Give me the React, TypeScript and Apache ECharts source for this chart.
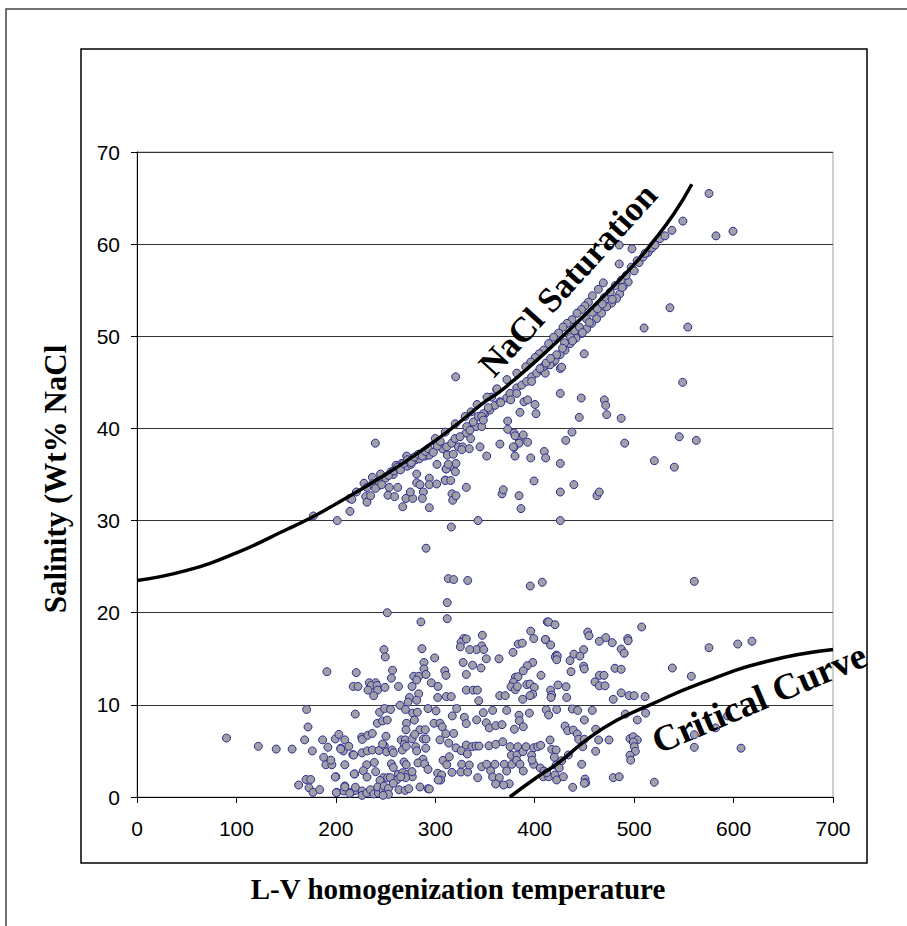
import React, { useEffect, useRef } from "react";
import * as echarts from "echarts";

const xTickMin = 0;
const xTickMax = 700;
const xTickStep = 100;
const yTickMin = 0;
const yTickMax = 70;
const yTickStep = 10;

const xTitle = "L-V homogenization temperature";
const yTitle = "Salinity (Wt% NaCl";
const saturationLabel = "NaCl Saturation";
const criticalLabel = "Critical Curve";

const saturationCurve = [
  [0, 23.5], [50, 24.6], [100, 26.5], [150, 29.0], [175, 30.3], [200, 31.8], [250, 35.0],
  [290, 37.9], [320, 40.3], [350, 42.9], [365, 44.0], [400, 47.2], [430, 50.2], [466, 54.0],
  [500, 57.8], [517, 60.0], [540, 63.3], [558, 66.5],
];

const criticalCurve = [
  [375, 0], [399, 1.9], [425, 3.8], [452, 6.2], [482, 8.3], [516, 10.0], [566, 12.3], [633, 14.7], [700, 16.0],
];

const lowerCluster = [
  [191,13.6],[220.5,13.5],[217.5,12.0],[222.3,12.0],[170.6,9.5],[219.5,9.0],[172,7.6],[90,6.4],[122,5.5],[140,5.2],[156,5.2],[168.6,6.2],[176.3,5.0],[186.7,6.2],[192,5.4],[199.4,6.3],[203,6.8],[209,6.2],[205,5.3],[207.5,5.0],[213,5.5],[217,4.6],[187.7,4.3],[190,3.5],[196,3.5],[195,4.0],[209,3.5],[219,2.5],[200,2.2],[170,1.9],[174.7,1.9],[162.6,1.3],[173,1.0],[177,0.5],[183.7,0.8],[201,0.5],[209,1.2],[208,0.65],[215,0.5],[219,0.7],
  [248.4,16.0],[249.7,15.2],[286.6,16.1],[257,13.75],[255.8,12.9],[288.6,14.6],[288.6,13.9],[233.6,12.4],[240,12.4],[235.6,12.1],[241.4,12.1],[232.3,11.6],[242,11.6],[238,11.0],[249.4,11.9],[263,12.0],[276.6,12.0],[278.3,13.1],[283.3,13.1],[290.7,13.3],[281.3,12.7],[283.3,11.2],[274,10.8],[272.6,10.3],[281.3,10.5],[264.5,9.95],[270,9.5],[292.7,9.6],[244,9.2],[249,9.6],[255,9.5],[277.3,9.1],[282,9.2],[241.7,8.0],[247,8.25],[251.7,8.35],[271,8.0],[279,8.35],[270.5,7.3],[284.6,7.3],[290,7.3],[250.4,6.6],[226,6.5],[226.6,6.25],[232,6.7],[236.7,6.9],[265.8,6.2],[269.8,6.2],[276.6,6.3],[268.8,5.7],[279.3,6.8],[288,6.3],[290.7,6.3],[204.9,5.2],[218,4.55],[226.3,4.8],[231.6,5.0],[236.7,5.1],[243.4,5.05],[248.7,5.57],[247,5.75],[251,4.9],[256.5,5.1],[257.8,4.8],[266.8,5.1],[270.8,5.5],[280.3,5.45],[281.3,5.0],[290.4,5.3],[287.6,4.1],[238.7,3.75],[231,3.5],[227.6,2.85],[255.8,3.6],[257.8,3.2],[268.5,3.8],[270.8,3.5],[282.6,3.7],[289.3,3.6],[292.7,3.0],[262.8,2.46],[267.2,2.64],[272.2,2.46],[276.9,2.2],[276.6,2.75],[270.2,2.1],[261.2,1.85],[265.2,2.2],[199.4,2.17],[218.5,2.5],[231.3,2.17],[240,2.75],[247.7,2.1],[252.1,2.1],[254.7,2.1],[244.4,1.8],[200.4,0.47],[209,1.09],[214,0.4],[219.7,1.05],[226.4,0.65],[226.4,0.18],[231,0.43],[234.8,0.79],[238.1,0.33],[242.8,0.43],[242.1,1.09],[247.5,0.72],[248.5,1.19],[252.9,0.94],[252.9,0.29],[247.5,0.18],[257.8,1.49],[263.5,0.79],[269.8,0.72],[273.3,0.9],[284.6,1.09],[292.7,0.9],
  [312,19.35],[251.7,20.0],[285.6,19.0],[412.6,19.0],[396,18.0],[399,17.2],[347.3,17.55],[328.6,17.2],[325.9,16.8],[325.2,16.3],[331.2,17.15],[383.5,16.6],[387.5,16.7],[411,17.07],[346.7,16.4],[341.6,16.0],[334.6,16.0],[348.7,16.0],[378.2,15.7],[299.4,15.1],[351.3,15.0],[364.1,15.0],[328,14.6],[337.5,14.3],[346,14.0],[398,14.6],[392.5,14.25],[388.5,13.7],[406.3,13.2],[309.5,13.7],[310.8,13.2],[331.2,13.3],[296,12.4],[302.7,12.0],[380.5,13.0],[383.2,13.05],[378.5,12.45],[376.2,11.97],[380.5,11.65],[382.5,12.0],[392,12.2],[395.2,12.26],[399.6,11.9],[398,11.15],[387.9,10.6],[395.2,11.0],[302.4,10.8],[311.1,10.9],[316.1,10.9],[331.2,11.6],[338,11.6],[342.3,11.6],[343.7,10.45],[364.8,11.0],[370.4,11.0],[300.7,9.35],[298.7,8.0],[304.7,8.0],[307,7.6],[321.5,9.6],[317.1,8.8],[329.2,8.65],[331.2,7.97],[341.6,8.37],[348.3,9.15],[357.7,9.4],[371.8,9.4],[351.3,8.06],[354.4,7.5],[360.8,7.75],[367.1,7.85],[379.5,7.35],[384.2,8.87],[384.5,8.28],[388.5,7.63],[394.6,9.1],[411.6,9.47],[414,8.9],[304.7,6.2],[310.5,6.87],[318.5,6.9],[313.5,5.85],[320.8,5.34],[326.1,5.03],[331.2,5.64],[336.9,5.46],[332.2,4.67],[340.9,5.53],[344,5.53],[354,5.56],[360.8,5.72],[367.8,6.0],[375.2,5.46],[376.5,4.53],[382.2,4.56],[382.9,5.46],[388.2,4.92],[391.2,5.46],[396.9,4.53],[399,5.35],[403,5.46],[406,5.61],[294,0.87],[302.4,2.57],[306.4,2.39],[307.8,3.98],[311.5,3.5],[314.1,4.37],[305.4,1.84],[303,1.84],[316.8,2.68],[325.8,2.71],[332.5,2.71],[326.5,3.55],[334.2,3.47],[342.6,2.1],[346.6,3.29],[351.7,3.55],[355.7,2.85],[357.7,2.17],[360,3.55],[364.4,2.1],[369.4,3.55],[371.8,2.82],[377.1,3.55],[374.4,1.44],[368.7,1.3],[360.7,1.41],[381.8,3.98],[385.2,3.55],[388.5,2.82],[398.9,3.55],[397.3,4.0],[408.6,2.2],[414,2.2],[405.6,3.15],[409.3,2.82],
  [414,19.0],[420.4,18.7],[507.6,18.45],[453.3,17.9],[454.6,17.5],[471.4,17.3],[465,16.9],[493.5,17.2],[575.3,16.2],[604.2,16.6],[618.5,16.9],[410.6,17.1],[416,16.5],[487,16.06],[490,15.6],[439.4,15.5],[449.2,16.0],[445.5,15.3],[421.7,15.4],
  [435.5,14.8],[449.2,14.2],[449.8,13.9],[436.5,13.6],[478,16.75],[494,16.96],[460.6,12.5],[465,13.2],[469.7,13.2],[465,12.07],[470.7,12.07],[480.7,13.97],[487,13.86],[487,11.3],[479,10.6],[495,11.0],[500,11.0],[511,10.9],[538.4,14.0],[557.5,13.1],[491.1,9.0],[503.2,8.36],[511.6,9.1],[457.9,9.4],[449.9,8.36],[461.3,7.35],[464.3,6.19],[474.7,6.19],[461.3,4.96],[495.8,6.33],[499.2,6.54],[503.2,6.19],[499.2,5.97],[500.2,5.46],[501.2,4.96],[495.8,4.53],[496.5,4.0],[560.5,6.76],[560.5,5.39],[447.2,3.55],[450.6,1.95],[451.3,1.55],[438.2,1.05],[479,2.1],[485,2.2],[520.3,1.6],[420.7,15.2],[422.7,15.3],[422.1,14.9],[416,11.6],[417,11.07],[416.4,10.8],[432.2,10.8],[431.5,11.97],[423.4,12.16],[422.1,9.5],[437.8,9.55],[443.2,9.4],[430.5,7.7],[433.2,7.2],[438.8,7.27],[442.8,6.84],[444.2,6.26],[449.9,6.26],[448.3,5.46],[415.4,6.19],[417.1,5.17],[421.5,5.1],[419.7,4.31],[427.1,3.94],[433.8,4.56],[421.4,3.44],[424.7,3.15],[412.1,2.64],[420.4,2.39],[422.1,1.85],[428.8,2.2],[449.9,1.49],[582,7.5],[594,8.8],[607.5,5.3],
];

const middleScatter = [
  [290.7,27.0],[313.1,23.7],[318.5,23.6],[332.6,23.5],[395.5,22.9],[407.6,23.3],[560.5,23.4],[343,30.0],[425.7,30.0],[316.1,29.3],[312,21.1],
];

const upperScatter = [
  [239.7,38.4],[177.3,30.5],[201.4,30.0],[214.2,31.0],[214,32.4],[216,32.3],[220.6,33.1],[228.3,34.05],[236.7,34.7],[231.3,33.6],[230,32.6],[231.3,32.0],[235,32.7],[245,35.05],[243,33.8],[249.7,34.7],[255.5,35.3],[257.8,35.0],[260.5,36.0],[266.2,36.2],[271.2,37.0],[271.8,35.9],[275.6,36.1],[280.3,36.6],[283.9,36.7],[289.7,37.0],[294,37.1],[253.7,33.6],[252.4,32.75],[259.1,32.6],[262.2,33.6],[270.5,32.4],[267.2,31.5],[277.3,32.4],[274.9,33.1],[281.3,35.05],[281.3,34.1],[284.6,33.9],[288,33.1],[287,32.4],[294,34.6],[294,33.9],[301.4,33.97],[294,31.4],[301.7,36.1],[310,34.4],[310.8,35.6],[314.8,35.85],
  [320.5,45.6],[548.8,45.0],[425.7,46.5],[425.7,43.8],[446.8,43.3],[470,43.1],[471.4,42.5],[472.4,41.5],[487,41.1],[444.8,41.2],[437.5,39.6],[431.2,38.7],[490.5,38.4],[545.4,39.1],[562.5,38.7],[520.3,36.5],[540.4,35.8],[425.7,36.2],[409.6,37.5],[411,36.8],[396,36.8],[399.3,34.3],[439.4,33.9],[425.7,33.1],[462.6,32.7],[464.9,33.1],[384.2,32.7],[386.2,31.3],[367.1,32.9],[368.4,33.35],[331.2,33.6],[316.8,32.9],[317.5,32.2],[320.8,32.7],
  [345,38.0],[351.7,37.0],[365,38.3],[372.8,40.8],[372.8,39.9],[379.2,39.5],[384.5,38.85],[384.2,38.4],[379.2,37.95],[380.2,37.0],[392.9,38.5],[385.2,41.75],[389.2,42.9],[392.9,43.1],[400.3,42.6],[401.3,41.6],[320.8,36.2],[320.2,35.3],[311.1,35.6],[310.1,34.35],[315.5,34.35],[313.1,36.1],[378.5,38.0],[380.2,39.2],[388.5,39.3],
  [536,53.1],[554,51.0],[510,50.9],[575.3,65.5],[582.3,60.9],[599.4,61.4],[485,59.9],[497.8,59.5],[485,57.85],
];

const saturationBand = [
  [307.4,37.8],[311.5,38.0],[316.5,38.4],[319.8,38.9],[323.2,38.0],[327.6,38.0],[334.2,37.8],[312.1,37.1],[318.1,37.2],[326.6,37.7],[330.9,39.5],[335.6,38.9],[331.6,40.2],[341,40.2],[346.7,40.2],[338.2,40.7],[343.3,41.3],[350,41.6],[355,42.0],[360,42.5],[365,42.9],[371.8,43.3],[375.1,43.8],[381.9,44.4],[386.9,44.7],[391.9,45.1],[396.9,45.6],[402,46.0],[407,46.3],[412,46.9],[418.7,47.2],[365.8,42.8],[375.8,43.1],[381.9,43.8],[396.9,45.1],[410.6,46.0],[408.6,46.7],[361.8,44.2],[356.7,43.4],[353.3,42.25],[348.3,41.6],[346.7,41.3],[324.9,39.1],[334.9,39.8],[348.3,40.9],
  [342,42.6],[352,43.4],[362,44.3],[372,45.3],[382,46.0],[300,38.9],[310,39.6],[320,40.5],[330,41.3],[336,41.8],
  [469,55.8],[464,55.1],[458,54.4],[454,53.7],[450.5,53.3],[447,52.9],[442.5,52.5],[437.5,51.8],[432.5,51.4],[428.5,51.0],[424,50.35],[419,49.9],[414,49.2],[409,48.5],[404.5,48.1],[400.5,47.7],[396,47.2],[391,46.7],
  [499,57.2],[494,55.9],[489,55.4],[485.5,54.6],[482.3,54.1],[477.3,53.6],[472.3,53.2],[467.2,52.5],[462.2,51.9],[457.2,51.4],[452.2,50.8],[447.2,50.3],[441.5,49.8],[435.5,49.2],[430.5,48.5],[425.4,48.0],[420.4,47.4],[415.4,46.9],[411.4,47.1],[405.3,46.5],[449.8,48.1],[427.1,46.65],
  [430,49.3],[436,49.9],[440,50.6],[445,51.0],[452,51.9],[458,52.6],[463,53.0],[470,54.2],[476,54.8],[481,55.5],[487,56.1],[492,56.6],[497,57.5],[503,58.2],[488,55.3],[478,54.0],[468,53.5],[455,51.5],[448,50.4],[438,49.5],[428,48.7],[422,48.0],[416,47.6],
  [505,58.0],[509,58.6],[514,59.1],[518,59.6],[521,59.9],[526,60.6],[531,60.9],[538,61.5],[549,62.5],[500,57.1],[511,59.0],
  [250,34.6],[253,34.9],[258,35.4],[262,35.8],[265,35.5],[268,36.2],[272,36.6],[276,36.3],[279,36.9],[283,37.2],[287,37.0],[290,37.5],[293,37.8],[298,37.4],[302,38.1],[305,38.6],[237,34.0],[240,33.5],[243,34.3],[246,33.9],
];

const serif = '"Liberation Serif", "Times New Roman", Times, serif';
const sans = '"Liberation Sans", Arial, Helvetica, sans-serif';

export default function App() {
  const ref = useRef<HTMLDivElement>(null);
  useEffect(() => {
    if (!ref.current) return;
    const chart = echarts.init(ref.current, null, { renderer: "svg" });
    const allPoints = [...lowerCluster, ...middleScatter, ...upperScatter, ...saturationBand];
    chart.setOption({
      animation: false,
      backgroundColor: "#ffffff",
      grid: { left: 137, top: 152, right: 74, bottom: 129, show: true, borderColor: "#a0a0a0", borderWidth: 1, backgroundColor: "transparent" },
      xAxis: {
        type: "value", min: xTickMin, max: xTickMax, interval: xTickStep,
        axisLine: { show: true, onZero: false, lineStyle: { color: "#000", width: 1 } },
        axisTick: { show: true, inside: false, length: 6, lineStyle: { color: "#000" } },
        axisLabel: { color: "#000", fontSize: 21, fontFamily: sans, margin: 21 },
        splitLine: { show: false },
      },
      yAxis: {
        type: "value", min: yTickMin, max: yTickMax, interval: yTickStep,
        axisLine: { show: true, onZero: false, lineStyle: { color: "#000", width: 1 } },
        axisTick: { show: true, inside: false, length: 6, lineStyle: { color: "#000" } },
        axisLabel: { color: "#000", fontSize: 21, fontFamily: sans, margin: 17 },
        splitLine: { show: true, lineStyle: { color: "#333", width: 1 } },
      },
      series: [
        {
          type: "scatter", data: allPoints, symbol: "circle", symbolSize: 8,
          itemStyle: { color: "#a0a0a6", borderColor: "#2e2e96", borderWidth: 1, opacity: 1 },
          z: 2,
        },
        {
          type: "line", data: saturationCurve, smooth: true, showSymbol: false,
          lineStyle: { color: "#000", width: 3.5 }, z: 3,
        },
        {
          type: "line", data: criticalCurve, smooth: true, showSymbol: false,
          lineStyle: { color: "#000", width: 3.5 }, z: 3,
        },
      ],
      graphic: [
        { type: "rect", shape: { x: 6, y: 9, width: 1000, height: 1000 }, style: { fill: "none", stroke: "#444", lineWidth: 1.5 }, silent: true },
        { type: "rect", shape: { x: 81, y: 49, width: 786, height: 814 }, style: { fill: "none", stroke: "#000", lineWidth: 1.5 }, silent: true },
        { type: "text", x: 458, y: 889, style: { text: xTitle, font: `bold 29px ${serif}`, fill: "#000", align: "center", verticalAlign: "middle" } },
        { type: "text", x: 55, y: 479, rotation: Math.PI / 2, style: { text: yTitle, font: `bold 31px ${serif}`, fill: "#000", align: "center", verticalAlign: "middle" } },
        { type: "text", x: 568, y: 280, rotation: 47.8 * Math.PI / 180, style: { text: saturationLabel, font: `bold 35px ${serif}`, fill: "#000", align: "center", verticalAlign: "middle" }, z: 10 },
        { type: "text", x: 759, y: 698, rotation: 23 * Math.PI / 180, style: { text: criticalLabel, font: `bold 37px ${serif}`, fill: "#000", align: "center", verticalAlign: "middle" }, z: 10 },
      ],
    });
    return () => chart.dispose();
  }, []);
  return <div ref={ref} style={{ position: "fixed", left: 0, top: 0, width: 907, height: 926, background: "#fff" }} />;
}
